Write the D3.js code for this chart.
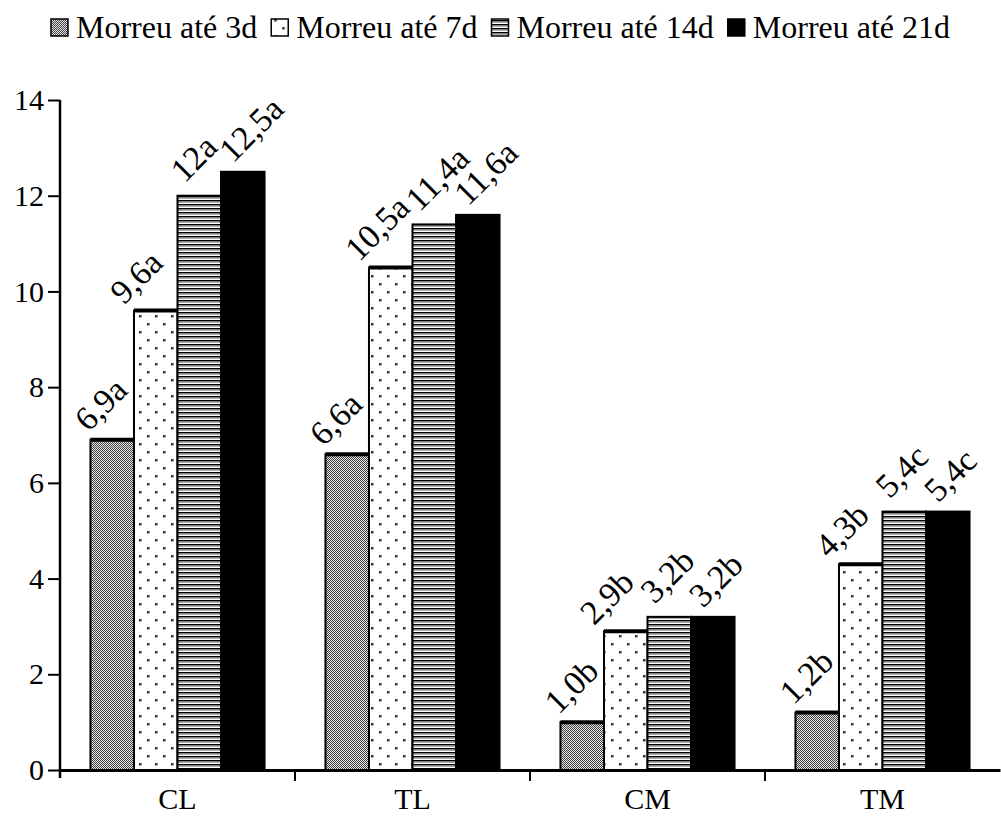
<!DOCTYPE html>
<html>
<head>
<meta charset="utf-8">
<script src="https://cdn.jsdelivr.net/npm/d3@7"></script>
<style>
    body { margin: 0; background: #fff; }
    text { font-family: "Liberation Serif", "Times New Roman", serif; fill: #000; }
</style>
</head>
<body>
<script>
let width = 1001,
    height = 823;

let categories = ["CL", "TL", "CM", "TM"];
let series = ["Morreu até 3d", "Morreu até 7d", "Morreu até 14d", "Morreu até 21d"];
let values3d = [6.9, 6.6, 1.0, 1.2];
let values7d = [9.6, 10.5, 2.9, 4.3];
let values14d = [12, 11.4, 3.2, 5.4];
let values21d = [12.5, 11.6, 3.2, 5.4];
let labels3d = ["6,9a", "6,6a", "1,0b", "1,2b"];
let labels7d = ["9,6a", "10,5a", "2,9b", "4,3b"];
let labels14d = ["12a", "11,4a", "3,2b", "5,4c"];
let labels21d = ["12,5a", "11,6a", "3,2b", "5,4c"];
let yTicks = [0, 2, 4, 6, 8, 10, 12, 14];

let allValues = [values3d, values7d, values14d, values21d];
let allLabels = [labels3d, labels7d, labels14d, labels21d];

// the value labels sit a little differently above each series
let labelShiftX = [-2, -10, 7, 12];
let labelShiftY = [-7, -5, -12, -8];

let svg = d3.select('body').append('svg')
    .attr('width', width)
    .attr('height', height);

// patterns for the bar fills
let defs = svg.append('defs');

let p1 = defs.append('pattern').attr('id', 'pat0')
    .attr('patternUnits', 'userSpaceOnUse').attr('width', 2).attr('height', 2);
p1.append('rect').attr('width', 2).attr('height', 2).attr('fill', '#e4e4e4');
p1.append('rect').attr('width', 1).attr('height', 1).attr('fill', '#444');
p1.append('rect').attr('x', 1).attr('y', 1).attr('width', 1).attr('height', 1).attr('fill', '#444');

let p2 = defs.append('pattern').attr('id', 'pat1')
    .attr('patternUnits', 'userSpaceOnUse').attr('width', 16).attr('height', 16);
p2.append('rect').attr('width', 16).attr('height', 16).attr('fill', '#fff');
p2.append('rect').attr('x', 3).attr('y', 3).attr('width', 2.5).attr('height', 2.5).attr('fill', '#333');
p2.append('rect').attr('x', 11).attr('y', 11).attr('width', 2.5).attr('height', 2.5).attr('fill', '#333');

let p3 = defs.append('pattern').attr('id', 'pat2')
    .attr('patternUnits', 'userSpaceOnUse').attr('width', 4).attr('height', 4);
p3.append('rect').attr('width', 4).attr('height', 4).attr('fill', '#fff');
p3.append('rect').attr('y', 0).attr('width', 4).attr('height', 1.5).attr('fill', '#000');
p3.append('rect').attr('y', 1.5).attr('width', 4).attr('height', 1.2).attr('fill', '#888');

let fills = ['url(#pat0)', 'url(#pat1)', 'url(#pat2)', '#000'];

let x = d3.scaleBand().domain(categories).range([60, 1000]).padding(0);
let x1 = d3.scaleBand().domain(series).range([0, x.bandwidth()]).paddingInner(0).paddingOuter(0.7);
let y = d3.scaleLinear().domain([0, 14]).range([770, 100]);

// bars
let barData = [];
categories.forEach((c, i) => {
    series.forEach((s, j) => {
        barData.push({cat: c, ser: s, idx: j, value: allValues[j][i], label: allLabels[j][i]});
    });
});

let bars = svg.append('g').selectAll('g').data(barData).enter().append('g');

bars.append('rect')
    .attr('x', d => x(d.cat) + x1(d.ser))
    .attr('y', d => y(d.value))
    .attr('width', x1.bandwidth())
    .attr('height', d => y(0) - y(d.value))
    .attr('fill', d => fills[d.idx])
    .attr('stroke', '#000')
    .attr('stroke-width', 2);

bars.filter(d => d.idx < 2).append('line')
    .attr('x1', d => x(d.cat) + x1(d.ser))
    .attr('x2', d => x(d.cat) + x1(d.ser) + x1.bandwidth())
    .attr('y1', d => y(d.value))
    .attr('y2', d => y(d.value))
    .attr('stroke', '#000')
    .attr('stroke-width', 4);

bars.append('text')
    .attr('transform', d => 'translate(' + (x(d.cat) + x1(d.ser) + labelShiftX[d.idx]) + ',' + (y(d.value) + labelShiftY[d.idx]) + ') rotate(-45)')
    .style('font-size', '34px')
    .text(d => d.label);

// y axis
let yAxis = svg.append('g')
    .attr('transform', 'translate(60,0)')
    .call(d3.axisLeft(y).tickValues(yTicks).tickSize(12).tickSizeOuter(0).tickPadding(4));
yAxis.select('.domain').attr('stroke-width', 2.5).attr('d', 'M0,100V778');
yAxis.selectAll('.tick line').attr('stroke-width', 2);
yAxis.selectAll('.tick text').style('font-size', '30px').style('font-family', '"Liberation Serif", serif');

// x axis
let xAxis = svg.append('g')
    .attr('transform', 'translate(0,770)')
    .call(d3.axisBottom(x).tickSize(0).tickSizeOuter(0).tickPadding(18));
xAxis.select('.domain').attr('stroke-width', 3);
xAxis.selectAll('.tick text').style('font-size', '30px').style('font-family', '"Liberation Serif", serif');
xAxis.selectAll('.boundary').data(categories.slice(1)).enter().append('line')
    .attr('class', 'boundary')
    .attr('x1', d => x(d)).attr('x2', d => x(d))
    .attr('y1', 0).attr('y2', 11)
    .attr('stroke', '#000').attr('stroke-width', 2);

// legend
let legend = svg.append('g');
let items = legend.selectAll('g').data(series).enter().append('g');
items.append('rect')
    .attr('width', 17).attr('height', 17)
    .attr('y', 19)
    .attr('fill', (d, i) => fills[i])
    .attr('stroke', '#000')
    .attr('stroke-width', 1.5);
items.append('text')
    .attr('x', 25)
    .attr('y', 38)
    .style('font-size', '32px')
    .text(d => d);

let pos = 0;
items.each(function() {
    let w = 25 + d3.select(this).select('text').node().getComputedTextLength();
    d3.select(this).attr('transform', 'translate(' + pos + ',0)');
    pos += w + 14;
});
legend.attr('transform', 'translate(' + ((width - (pos - 14)) / 2) + ',0)');
</script>
</body>
</html>
